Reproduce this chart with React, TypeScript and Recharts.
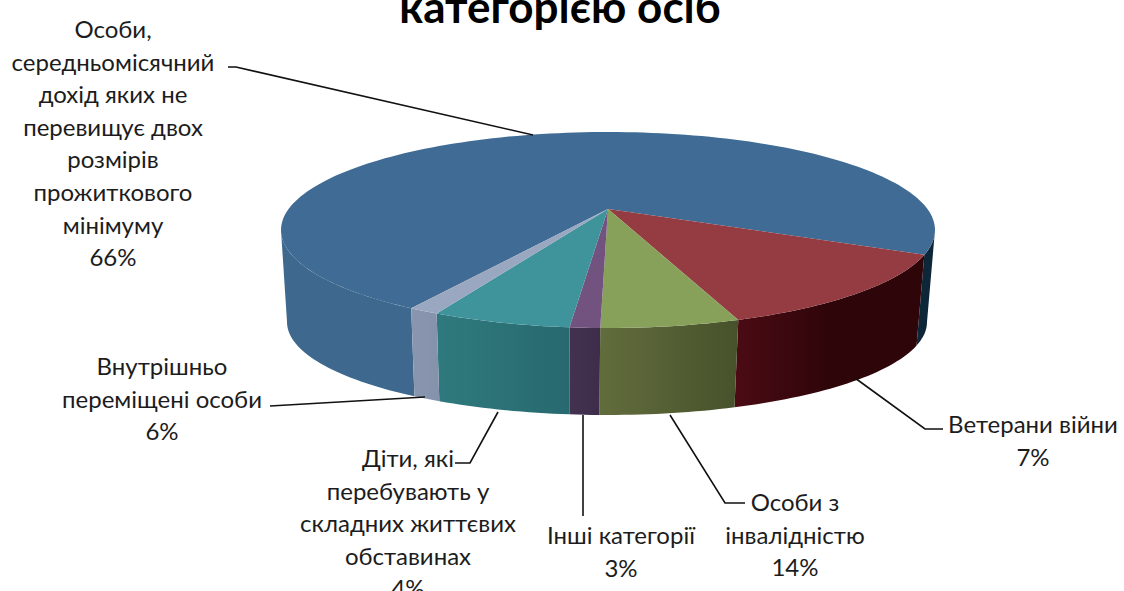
import React from "react";
import { PieChart, Pie } from "recharts";

// Categories, as printed on the labels (one entry per line of label text)
const categoryLines: string[][] = [
  ["Особи,", "середньомісячний", "дохід яких не", "перевищує двох", "розмірів", "прожиткового", "мінімуму"],
  ["Ветерани війни"],
  ["Особи з", "інвалідністю"],
  ["Інші категорії"],
  ["Діти, які", "перебувають у", "складних життєвих", "обставинах"],
  ["Внутрішньо", "переміщені особи"],
];
// Percentages as printed on the labels
const printedPercents = [66, 7, 14, 3, 4, 6];
// Share of the ring each wedge occupies as drawn in the picture (percent)
const drawnShares = [68.8, 14.4, 6.9, 1.5, 6.9, 1.5];

const topColors = ["#3f6b94", "#943c42", "#87a05a", "#72527f", "#3f949c", "#9aa7c0"];
const wallFrom = ["#3e688d", "#4c0b15", "#626d3d", "#443150", "#2f7a7e", "#8a96b0"];
const wallTo = ["#0d2638", "#2e0509", "#47512b", "#3d2d4b", "#27696f", "#8592ac"];

const title = "категорією осіб";

// Layout of the picture
const CX = 608;
const TOP_CY = 230;
const RX = 327;
const RY = 98;
const VERTEX = { x: 608, y: 209 };
const BOTTOM = { cx: 607, cy: 322, rx: 320, ry: 93 };
const LINE_H = 32.6;
const FONT = "Lato, Carlito, 'Open Sans', sans-serif";

const labelAnchors = [
  { x: 113, y: 28 },
  { x: 1033, y: 423 },
  { x: 795, y: 501 },
  { x: 621, y: 534 },
  { x: 408, y: 457 },
  { x: 162, y: 365 },
];
const leaders = [
  "228,67 236,67 533,135",
  "855,378 925,429 943,429",
  "670,415 725,503 745,503",
  "583,415 583,516",
  "498,412 470,463 455,463",
  "425,397 270,406",
];

const rad = (d: number) => (d * Math.PI) / 180;
const topPt = (t: number) => ({ x: CX + RX * Math.cos(rad(t)), y: TOP_CY - RY * Math.sin(rad(t)) });
const botPt = (t: number) => ({
  x: BOTTOM.cx + BOTTOM.rx * Math.cos(rad(t)),
  y: BOTTOM.cy - BOTTOM.ry * Math.sin(rad(t)),
});

const sample = (from: number, to: number, fn: (t: number) => { x: number; y: number }) => {
  const n = Math.max(2, Math.ceil(Math.abs(to - from) / 1.5));
  const pts: string[] = [];
  for (let i = 0; i <= n; i++) {
    const p = fn(from + ((to - from) * i) / n);
    pts.push(`${p.x.toFixed(2)} ${p.y.toFixed(2)}`);
  }
  return pts;
};

const Wedge = (props: any) => {
  const { startAngle, endAngle, index } = props;
  const i: number = index ?? 0;
  const hi = Math.max(startAngle, endAngle);
  const lo = Math.min(startAngle, endAngle);
  const visible: [number, number][] = [];
  for (const [a, b] of [
    [-180, 0],
    [180, 360],
  ]) {
    const s = Math.max(lo, a);
    const e = Math.min(hi, b);
    if (e > s) visible.push([s, e]);
  }
  const arc = sample(startAngle, endAngle, topPt);
  const topPath = `M${VERTEX.x} ${VERTEX.y} L${arc.join(" L")} Z`;
  const walls = visible.map(([s, e]) => {
    const up = sample(s, e, topPt);
    const down = sample(e, s, botPt);
    return `M${up.join(" L")} L${down.join(" L")} Z`;
  });
  const xs = visible.flatMap(([s, e]) => [topPt(s).x, topPt(e).x, botPt(s).x, botPt(e).x]);
  const x1 = i === 0 ? CX - RX : Math.min(...xs);
  const x2 = i === 0 ? CX + RX : Math.max(...xs);
  const gid = `wall-${i}`;
  return (
    <g>
      <defs>
        <linearGradient id={gid} gradientUnits="userSpaceOnUse" x1={x1} x2={x2} y1={0} y2={0}>
          <stop offset={i === 0 ? 0.2 : 0} stopColor={wallFrom[i]} />
          <stop offset={i === 0 ? 0.97 : i === 1 ? 0.5 : 1} stopColor={wallTo[i]} />
        </linearGradient>
      </defs>
      {walls.map((d, k) => (
        <path key={k} d={d} fill={`url(#${gid})`} stroke="none" />
      ))}
      <path d={topPath} fill={topColors[i]} stroke="none" />
    </g>
  );
};

const SliceLabel = (props: any) => {
  const i: number = props.index;
  const a = labelAnchors[i];
  const lines = [...categoryLines[i], `${printedPercents[i]}%`];
  return (
    <g>
      <polyline points={leaders[i]} fill="none" stroke="#111" strokeWidth={1.6} />
      <text
        x={a.x}
        y={a.y}
        textAnchor="middle"
        dominantBaseline="central"
        fontFamily={FONT}
        fontSize={24}
        fill="#1c1c1c"
      >
        {lines.map((l, k) => (
          <tspan key={k} x={a.x} y={a.y + k * LINE_H} dominantBaseline="central">
            {l}
          </tspan>
        ))}
      </text>
    </g>
  );
};

const data = categoryLines.map((lines, i) => ({
  name: lines.join(" "),
  share: drawnShares[i],
}));

export default function App() {
  return (
    <div style={{ position: "absolute", left: 0, top: 0, width: 1124, height: 591, overflow: "hidden", background: "#fff" }}>
      <div
        style={{
          position: "absolute",
          left: 260,
          width: 600,
          top: -18,
          textAlign: "center",
          fontFamily: FONT,
          fontWeight: 700,
          fontSize: 44,
          lineHeight: "48px",
          color: "#000",
        }}
      >
        {title}
      </div>
      <PieChart width={1124} height={591} margin={{ top: 0, right: 0, bottom: 0, left: 0 }}>
        <Pie
          data={data}
          dataKey="share"
          nameKey="name"
          cx={CX}
          cy={TOP_CY}
          innerRadius={0}
          outerRadius={RX}
          startAngle={233}
          endAngle={-127}
          stroke="none"
          shape={Wedge}
          label={SliceLabel}
          labelLine={false}
          isAnimationActive={false}
        />
      </PieChart>
    </div>
  );
}
